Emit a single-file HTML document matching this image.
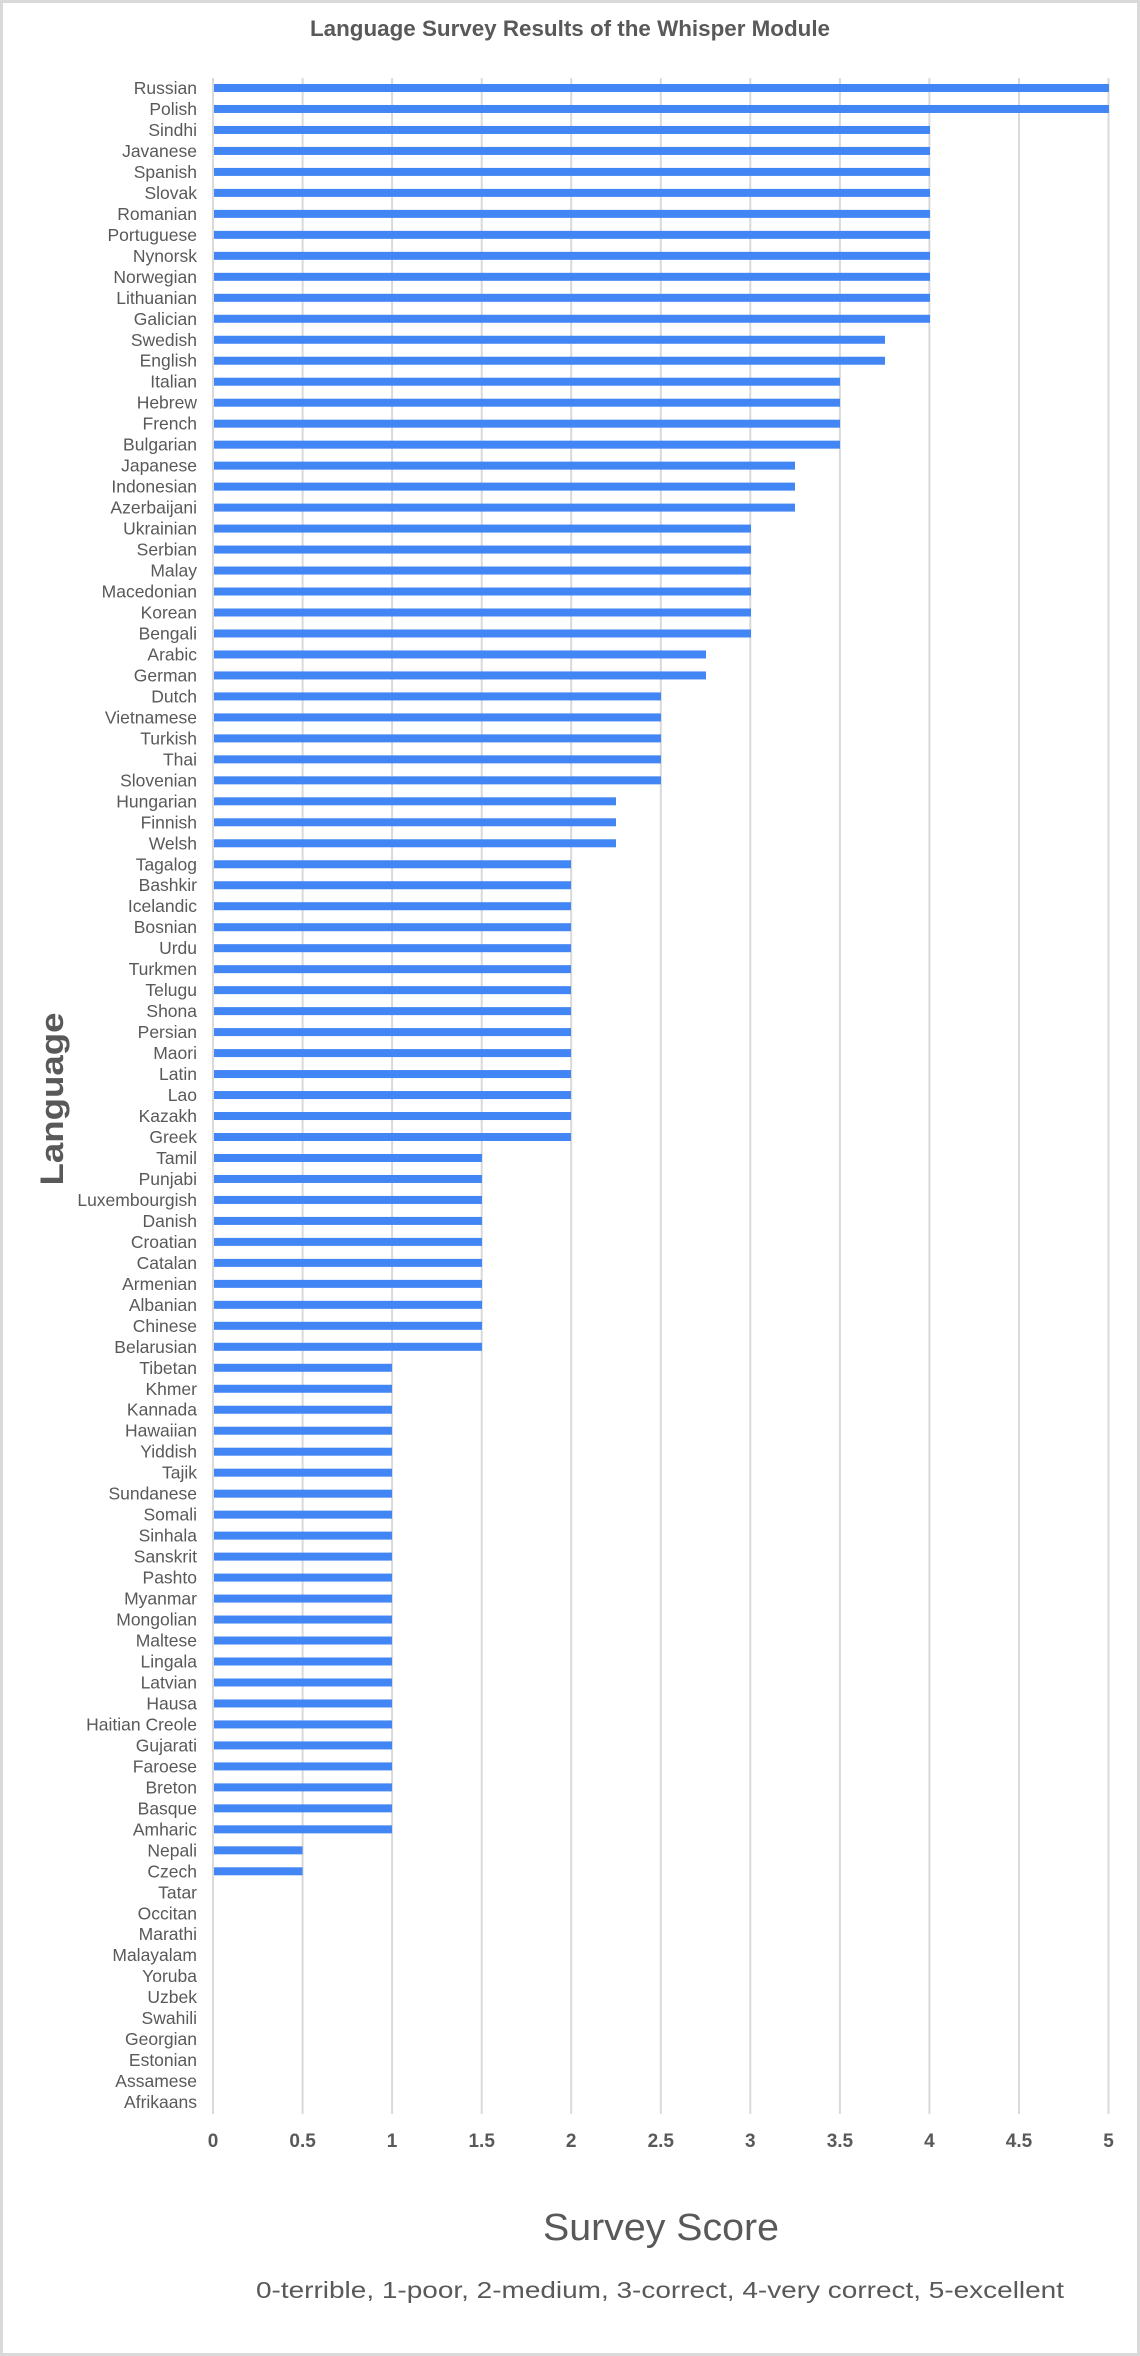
<!DOCTYPE html>
<html><head><meta charset="utf-8"><style>
html,body{margin:0;padding:0;background:#fff}
svg{display:block}
.l{font-family:"Liberation Sans",Arial,sans-serif;font-size:17.5px;fill:#595959;text-anchor:end}
.t{font-family:"Liberation Sans",Arial,sans-serif;font-size:19px;font-weight:bold;fill:#595959;text-anchor:middle}
rect.b{fill:#4285f4}
</style></head><body>
<svg width="1140" height="2356" viewBox="0 0 1140 2356" xmlns="http://www.w3.org/2000/svg">
<rect x="1.5" y="1.5" width="1137" height="2353" fill="#fff" stroke="#d9d9d9" stroke-width="3"/>
<text x="310" y="36" textLength="520" lengthAdjust="spacingAndGlyphs" font-family="Liberation Sans, Arial, sans-serif" font-size="22" font-weight="bold" fill="#595959">Language Survey Results of the Whisper Module</text>
<g stroke="#d9d9d9" stroke-width="2">
<line x1="213" y1="78" x2="213" y2="2114"/><line x1="302.6" y1="78" x2="302.6" y2="2114"/><line x1="392.1" y1="78" x2="392.1" y2="2114"/><line x1="481.7" y1="78" x2="481.7" y2="2114"/><line x1="571.2" y1="78" x2="571.2" y2="2114"/><line x1="660.8" y1="78" x2="660.8" y2="2114"/><line x1="750.3" y1="78" x2="750.3" y2="2114"/><line x1="839.9" y1="78" x2="839.9" y2="2114"/><line x1="929.4" y1="78" x2="929.4" y2="2114"/><line x1="1019" y1="78" x2="1019" y2="2114"/><line x1="1108.5" y1="78" x2="1108.5" y2="2114"/>
</g>
<text class="t" x="213" y="2147">0</text><text class="t" x="302.6" y="2147">0.5</text><text class="t" x="392.1" y="2147">1</text><text class="t" x="481.7" y="2147">1.5</text><text class="t" x="571.2" y="2147">2</text><text class="t" x="660.8" y="2147">2.5</text><text class="t" x="750.3" y="2147">3</text><text class="t" x="839.9" y="2147">3.5</text><text class="t" x="929.4" y="2147">4</text><text class="t" x="1019" y="2147">4.5</text><text class="t" x="1108.5" y="2147">5</text>
<g>
<g transform="translate(0,88)"><text class="l" x="197" y="6">Russian</text><rect class="b" x="214" y="-4" width="895" height="8"/></g>
<g transform="translate(0,108.98)"><text class="l" x="197" y="6">Polish</text><rect class="b" x="214" y="-4" width="895" height="8"/></g>
<g transform="translate(0,129.96)"><text class="l" x="197" y="6">Sindhi</text><rect class="b" x="214" y="-4" width="716" height="8"/></g>
<g transform="translate(0,150.94)"><text class="l" x="197" y="6">Javanese</text><rect class="b" x="214" y="-4" width="716" height="8"/></g>
<g transform="translate(0,171.92)"><text class="l" x="197" y="6">Spanish</text><rect class="b" x="214" y="-4" width="716" height="8"/></g>
<g transform="translate(0,192.9)"><text class="l" x="197" y="6">Slovak</text><rect class="b" x="214" y="-4" width="716" height="8"/></g>
<g transform="translate(0,213.88)"><text class="l" x="197" y="6">Romanian</text><rect class="b" x="214" y="-4" width="716" height="8"/></g>
<g transform="translate(0,234.86)"><text class="l" x="197" y="6">Portuguese</text><rect class="b" x="214" y="-4" width="716" height="8"/></g>
<g transform="translate(0,255.84)"><text class="l" x="197" y="6">Nynorsk</text><rect class="b" x="214" y="-4" width="716" height="8"/></g>
<g transform="translate(0,276.82)"><text class="l" x="197" y="6">Norwegian</text><rect class="b" x="214" y="-4" width="716" height="8"/></g>
<g transform="translate(0,297.8)"><text class="l" x="197" y="6">Lithuanian</text><rect class="b" x="214" y="-4" width="716" height="8"/></g>
<g transform="translate(0,318.78)"><text class="l" x="197" y="6">Galician</text><rect class="b" x="214" y="-4" width="716" height="8"/></g>
<g transform="translate(0,339.76)"><text class="l" x="197" y="6">Swedish</text><rect class="b" x="214" y="-4" width="671" height="8"/></g>
<g transform="translate(0,360.74)"><text class="l" x="197" y="6">English</text><rect class="b" x="214" y="-4" width="671" height="8"/></g>
<g transform="translate(0,381.72)"><text class="l" x="197" y="6">Italian</text><rect class="b" x="214" y="-4" width="626" height="8"/></g>
<g transform="translate(0,402.7)"><text class="l" x="197" y="6">Hebrew</text><rect class="b" x="214" y="-4" width="626" height="8"/></g>
<g transform="translate(0,423.68)"><text class="l" x="197" y="6">French</text><rect class="b" x="214" y="-4" width="626" height="8"/></g>
<g transform="translate(0,444.66)"><text class="l" x="197" y="6">Bulgarian</text><rect class="b" x="214" y="-4" width="626" height="8"/></g>
<g transform="translate(0,465.64)"><text class="l" x="197" y="6">Japanese</text><rect class="b" x="214" y="-4" width="581" height="8"/></g>
<g transform="translate(0,486.62)"><text class="l" x="197" y="6">Indonesian</text><rect class="b" x="214" y="-4" width="581" height="8"/></g>
<g transform="translate(0,507.6)"><text class="l" x="197" y="6">Azerbaijani</text><rect class="b" x="214" y="-4" width="581" height="8"/></g>
<g transform="translate(0,528.58)"><text class="l" x="197" y="6">Ukrainian</text><rect class="b" x="214" y="-4" width="537" height="8"/></g>
<g transform="translate(0,549.56)"><text class="l" x="197" y="6">Serbian</text><rect class="b" x="214" y="-4" width="537" height="8"/></g>
<g transform="translate(0,570.54)"><text class="l" x="197" y="6">Malay</text><rect class="b" x="214" y="-4" width="537" height="8"/></g>
<g transform="translate(0,591.52)"><text class="l" x="197" y="6">Macedonian</text><rect class="b" x="214" y="-4" width="537" height="8"/></g>
<g transform="translate(0,612.5)"><text class="l" x="197" y="6">Korean</text><rect class="b" x="214" y="-4" width="537" height="8"/></g>
<g transform="translate(0,633.48)"><text class="l" x="197" y="6">Bengali</text><rect class="b" x="214" y="-4" width="537" height="8"/></g>
<g transform="translate(0,654.46)"><text class="l" x="197" y="6">Arabic</text><rect class="b" x="214" y="-4" width="492" height="8"/></g>
<g transform="translate(0,675.44)"><text class="l" x="197" y="6">German</text><rect class="b" x="214" y="-4" width="492" height="8"/></g>
<g transform="translate(0,696.42)"><text class="l" x="197" y="6">Dutch</text><rect class="b" x="214" y="-4" width="447" height="8"/></g>
<g transform="translate(0,717.4)"><text class="l" x="197" y="6">Vietnamese</text><rect class="b" x="214" y="-4" width="447" height="8"/></g>
<g transform="translate(0,738.38)"><text class="l" x="197" y="6">Turkish</text><rect class="b" x="214" y="-4" width="447" height="8"/></g>
<g transform="translate(0,759.36)"><text class="l" x="197" y="6">Thai</text><rect class="b" x="214" y="-4" width="447" height="8"/></g>
<g transform="translate(0,780.34)"><text class="l" x="197" y="6">Slovenian</text><rect class="b" x="214" y="-4" width="447" height="8"/></g>
<g transform="translate(0,801.32)"><text class="l" x="197" y="6">Hungarian</text><rect class="b" x="214" y="-4" width="402" height="8"/></g>
<g transform="translate(0,822.3)"><text class="l" x="197" y="6">Finnish</text><rect class="b" x="214" y="-4" width="402" height="8"/></g>
<g transform="translate(0,843.28)"><text class="l" x="197" y="6">Welsh</text><rect class="b" x="214" y="-4" width="402" height="8"/></g>
<g transform="translate(0,864.26)"><text class="l" x="197" y="6">Tagalog</text><rect class="b" x="214" y="-4" width="357" height="8"/></g>
<g transform="translate(0,885.24)"><text class="l" x="197" y="6">Bashkir</text><rect class="b" x="214" y="-4" width="357" height="8"/></g>
<g transform="translate(0,906.22)"><text class="l" x="197" y="6">Icelandic</text><rect class="b" x="214" y="-4" width="357" height="8"/></g>
<g transform="translate(0,927.2)"><text class="l" x="197" y="6">Bosnian</text><rect class="b" x="214" y="-4" width="357" height="8"/></g>
<g transform="translate(0,948.18)"><text class="l" x="197" y="6">Urdu</text><rect class="b" x="214" y="-4" width="357" height="8"/></g>
<g transform="translate(0,969.16)"><text class="l" x="197" y="6">Turkmen</text><rect class="b" x="214" y="-4" width="357" height="8"/></g>
<g transform="translate(0,990.14)"><text class="l" x="197" y="6">Telugu</text><rect class="b" x="214" y="-4" width="357" height="8"/></g>
<g transform="translate(0,1011.12)"><text class="l" x="197" y="6">Shona</text><rect class="b" x="214" y="-4" width="357" height="8"/></g>
<g transform="translate(0,1032.1)"><text class="l" x="197" y="6">Persian</text><rect class="b" x="214" y="-4" width="357" height="8"/></g>
<g transform="translate(0,1053.08)"><text class="l" x="197" y="6">Maori</text><rect class="b" x="214" y="-4" width="357" height="8"/></g>
<g transform="translate(0,1074.06)"><text class="l" x="197" y="6">Latin</text><rect class="b" x="214" y="-4" width="357" height="8"/></g>
<g transform="translate(0,1095.04)"><text class="l" x="197" y="6">Lao</text><rect class="b" x="214" y="-4" width="357" height="8"/></g>
<g transform="translate(0,1116.02)"><text class="l" x="197" y="6">Kazakh</text><rect class="b" x="214" y="-4" width="357" height="8"/></g>
<g transform="translate(0,1137)"><text class="l" x="197" y="6">Greek</text><rect class="b" x="214" y="-4" width="357" height="8"/></g>
<g transform="translate(0,1157.98)"><text class="l" x="197" y="6">Tamil</text><rect class="b" x="214" y="-4" width="268" height="8"/></g>
<g transform="translate(0,1178.96)"><text class="l" x="197" y="6">Punjabi</text><rect class="b" x="214" y="-4" width="268" height="8"/></g>
<g transform="translate(0,1199.94)"><text class="l" x="197" y="6">Luxembourgish</text><rect class="b" x="214" y="-4" width="268" height="8"/></g>
<g transform="translate(0,1220.92)"><text class="l" x="197" y="6">Danish</text><rect class="b" x="214" y="-4" width="268" height="8"/></g>
<g transform="translate(0,1241.9)"><text class="l" x="197" y="6">Croatian</text><rect class="b" x="214" y="-4" width="268" height="8"/></g>
<g transform="translate(0,1262.88)"><text class="l" x="197" y="6">Catalan</text><rect class="b" x="214" y="-4" width="268" height="8"/></g>
<g transform="translate(0,1283.86)"><text class="l" x="197" y="6">Armenian</text><rect class="b" x="214" y="-4" width="268" height="8"/></g>
<g transform="translate(0,1304.84)"><text class="l" x="197" y="6">Albanian</text><rect class="b" x="214" y="-4" width="268" height="8"/></g>
<g transform="translate(0,1325.82)"><text class="l" x="197" y="6">Chinese</text><rect class="b" x="214" y="-4" width="268" height="8"/></g>
<g transform="translate(0,1346.8)"><text class="l" x="197" y="6">Belarusian</text><rect class="b" x="214" y="-4" width="268" height="8"/></g>
<g transform="translate(0,1367.78)"><text class="l" x="197" y="6">Tibetan</text><rect class="b" x="214" y="-4" width="178" height="8"/></g>
<g transform="translate(0,1388.76)"><text class="l" x="197" y="6">Khmer</text><rect class="b" x="214" y="-4" width="178" height="8"/></g>
<g transform="translate(0,1409.74)"><text class="l" x="197" y="6">Kannada</text><rect class="b" x="214" y="-4" width="178" height="8"/></g>
<g transform="translate(0,1430.72)"><text class="l" x="197" y="6">Hawaiian</text><rect class="b" x="214" y="-4" width="178" height="8"/></g>
<g transform="translate(0,1451.7)"><text class="l" x="197" y="6">Yiddish</text><rect class="b" x="214" y="-4" width="178" height="8"/></g>
<g transform="translate(0,1472.68)"><text class="l" x="197" y="6">Tajik</text><rect class="b" x="214" y="-4" width="178" height="8"/></g>
<g transform="translate(0,1493.66)"><text class="l" x="197" y="6">Sundanese</text><rect class="b" x="214" y="-4" width="178" height="8"/></g>
<g transform="translate(0,1514.64)"><text class="l" x="197" y="6">Somali</text><rect class="b" x="214" y="-4" width="178" height="8"/></g>
<g transform="translate(0,1535.62)"><text class="l" x="197" y="6">Sinhala</text><rect class="b" x="214" y="-4" width="178" height="8"/></g>
<g transform="translate(0,1556.6)"><text class="l" x="197" y="6">Sanskrit</text><rect class="b" x="214" y="-4" width="178" height="8"/></g>
<g transform="translate(0,1577.58)"><text class="l" x="197" y="6">Pashto</text><rect class="b" x="214" y="-4" width="178" height="8"/></g>
<g transform="translate(0,1598.56)"><text class="l" x="197" y="6">Myanmar</text><rect class="b" x="214" y="-4" width="178" height="8"/></g>
<g transform="translate(0,1619.54)"><text class="l" x="197" y="6">Mongolian</text><rect class="b" x="214" y="-4" width="178" height="8"/></g>
<g transform="translate(0,1640.52)"><text class="l" x="197" y="6">Maltese</text><rect class="b" x="214" y="-4" width="178" height="8"/></g>
<g transform="translate(0,1661.5)"><text class="l" x="197" y="6">Lingala</text><rect class="b" x="214" y="-4" width="178" height="8"/></g>
<g transform="translate(0,1682.48)"><text class="l" x="197" y="6">Latvian</text><rect class="b" x="214" y="-4" width="178" height="8"/></g>
<g transform="translate(0,1703.46)"><text class="l" x="197" y="6">Hausa</text><rect class="b" x="214" y="-4" width="178" height="8"/></g>
<g transform="translate(0,1724.44)"><text class="l" x="197" y="6">Haitian Creole</text><rect class="b" x="214" y="-4" width="178" height="8"/></g>
<g transform="translate(0,1745.42)"><text class="l" x="197" y="6">Gujarati</text><rect class="b" x="214" y="-4" width="178" height="8"/></g>
<g transform="translate(0,1766.4)"><text class="l" x="197" y="6">Faroese</text><rect class="b" x="214" y="-4" width="178" height="8"/></g>
<g transform="translate(0,1787.38)"><text class="l" x="197" y="6">Breton</text><rect class="b" x="214" y="-4" width="178" height="8"/></g>
<g transform="translate(0,1808.36)"><text class="l" x="197" y="6">Basque</text><rect class="b" x="214" y="-4" width="178" height="8"/></g>
<g transform="translate(0,1829.34)"><text class="l" x="197" y="6">Amharic</text><rect class="b" x="214" y="-4" width="178" height="8"/></g>
<g transform="translate(0,1850.32)"><text class="l" x="197" y="6">Nepali</text><rect class="b" x="214" y="-4" width="88.6" height="8"/></g>
<g transform="translate(0,1871.3)"><text class="l" x="197" y="6">Czech</text><rect class="b" x="214" y="-4" width="88.6" height="8"/></g>
<g transform="translate(0,1892.28)"><text class="l" x="197" y="6">Tatar</text></g>
<g transform="translate(0,1913.26)"><text class="l" x="197" y="6">Occitan</text></g>
<g transform="translate(0,1934.24)"><text class="l" x="197" y="6">Marathi</text></g>
<g transform="translate(0,1955.22)"><text class="l" x="197" y="6">Malayalam</text></g>
<g transform="translate(0,1976.2)"><text class="l" x="197" y="6">Yoruba</text></g>
<g transform="translate(0,1997.18)"><text class="l" x="197" y="6">Uzbek</text></g>
<g transform="translate(0,2018.16)"><text class="l" x="197" y="6">Swahili</text></g>
<g transform="translate(0,2039.14)"><text class="l" x="197" y="6">Georgian</text></g>
<g transform="translate(0,2060.12)"><text class="l" x="197" y="6">Estonian</text></g>
<g transform="translate(0,2081.1)"><text class="l" x="197" y="6">Assamese</text></g>
<g transform="translate(0,2102.08)"><text class="l" x="197" y="6">Afrikaans</text></g>
</g>
<text transform="translate(63,1099) rotate(-90)" x="0" y="0" text-anchor="middle" textLength="173" lengthAdjust="spacingAndGlyphs" font-family="Liberation Sans, Arial, sans-serif" font-size="32" font-weight="bold" fill="#595959">Language</text>
<text x="543" y="2240" textLength="236" lengthAdjust="spacingAndGlyphs" font-family="Liberation Sans, Arial, sans-serif" font-size="38" fill="#595959">Survey Score</text>
<text x="256" y="2298" textLength="808" lengthAdjust="spacingAndGlyphs" font-family="Liberation Sans, Arial, sans-serif" font-size="23" fill="#595959">0-terrible, 1-poor, 2-medium, 3-correct, 4-very correct, 5-excellent</text>
</svg>
</body></html>
